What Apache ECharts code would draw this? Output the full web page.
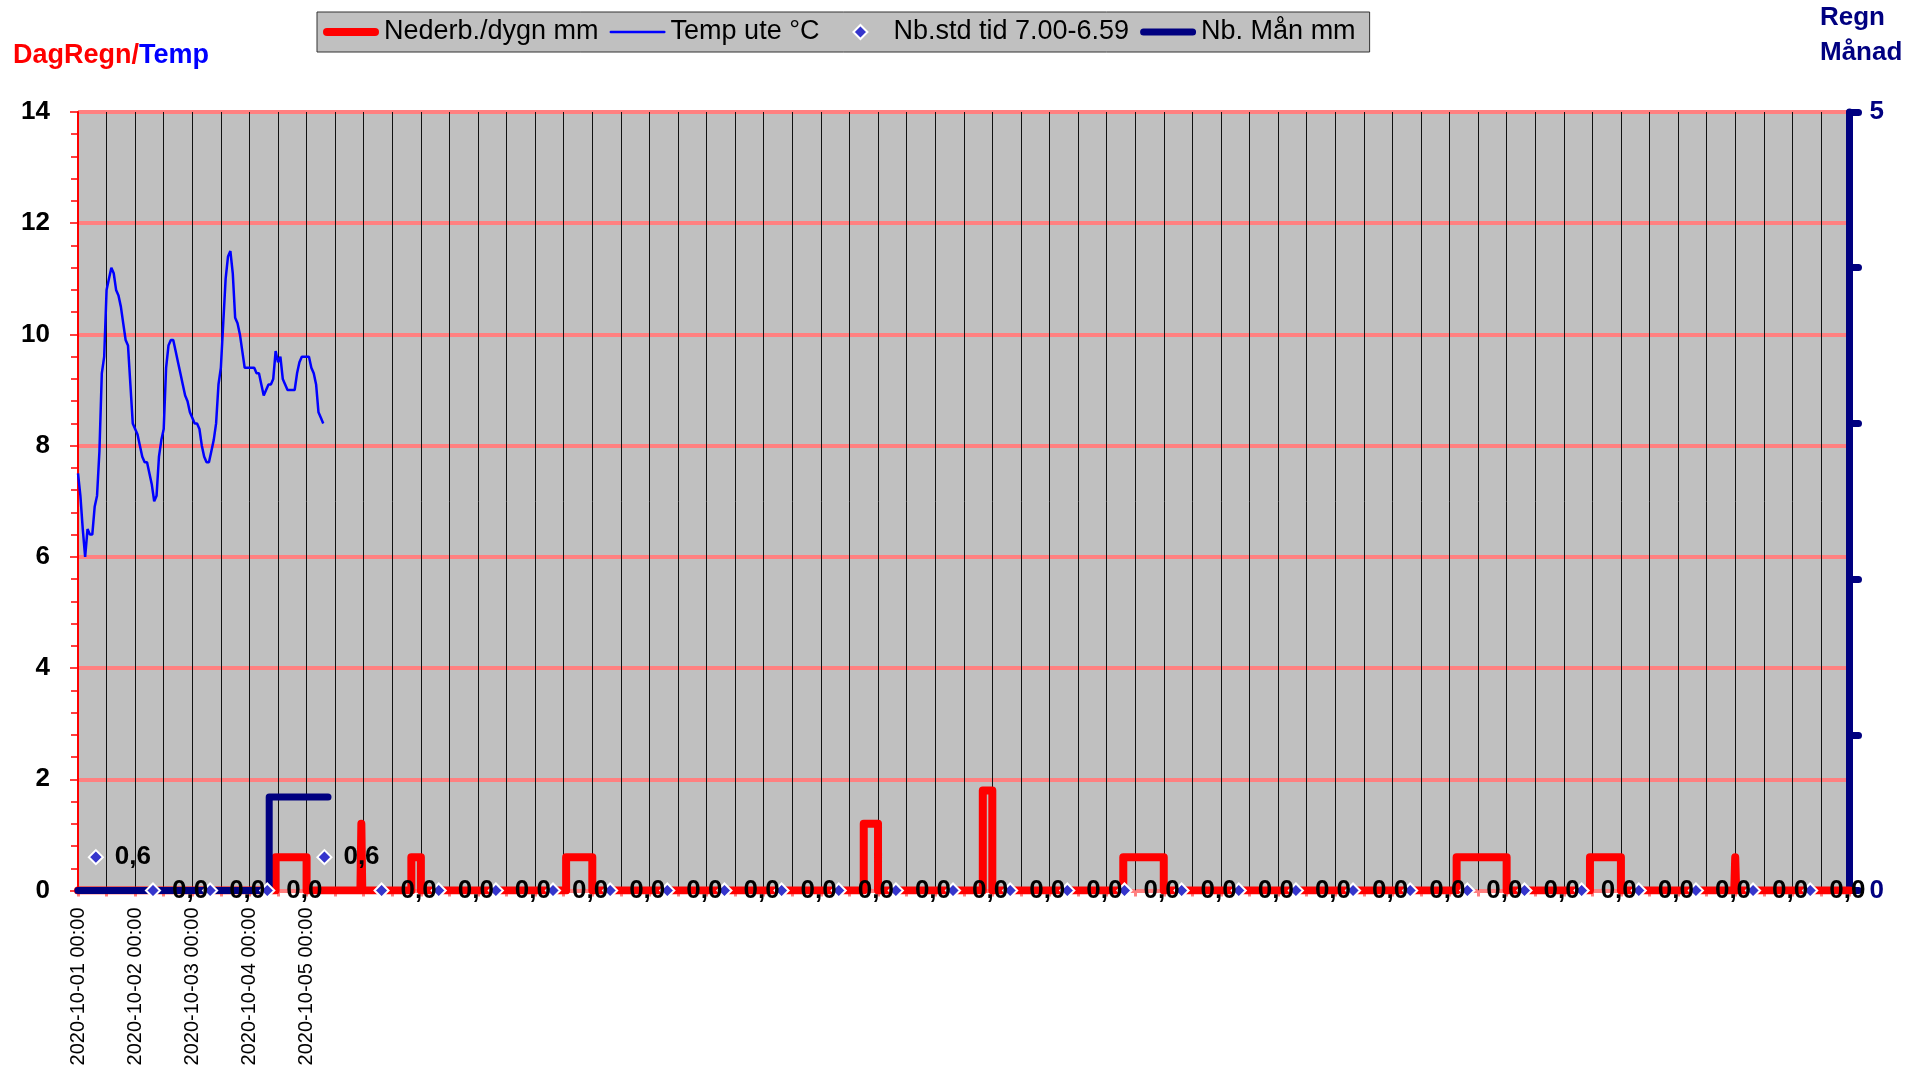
<!DOCTYPE html>
<html>
<head>
<meta charset="utf-8">
<script src="https://cdn.jsdelivr.net/npm/echarts@6/dist/echarts.min.js"></script>
<style>
  html, body { margin: 0; padding: 0; background: #fff; }
  #chart { width: 1930px; height: 1076px; }
</style>
</head>
<body>
<div id="chart"></div>
<script>
// x = hours after 2020-10-01 00:00, whole month
const monthHours = 744
const dateLabels = ['2020-10-01 00:00', '2020-10-02 00:00', '2020-10-03 00:00', '2020-10-04 00:00', '2020-10-05 00:00']

// Temp ute °C, one reading per hour from 10-01 00:00
const tempValues = [
  7.5, 7.1, 6.5, 6.0, 6.5, 6.4, 6.4, 6.9, 7.1, 7.9,
  9.3, 9.6, 10.8, 11.0, 11.2, 11.1, 10.8, 10.7, 10.5, 10.2,
  9.9, 9.8, 9.1, 8.4, 8.3, 8.2, 8.0, 7.8, 7.7, 7.7,
  7.5, 7.3, 7.0, 7.1, 7.8, 8.1, 8.3, 9.4, 9.8, 9.9,
  9.9, 9.7, 9.5, 9.3, 9.1, 8.9, 8.8, 8.6, 8.5, 8.4,
  8.4, 8.3, 8.0, 7.8, 7.7, 7.7, 7.9, 8.1, 8.4, 9.1,
  9.4, 10.2, 11.0, 11.4, 11.5, 11.1, 10.3, 10.2, 10.0, 9.7,
  9.4, 9.4, 9.4, 9.4, 9.4, 9.3, 9.3, 9.1, 8.9, 9.0,
  9.1, 9.1, 9.2, 9.7, 9.5, 9.6, 9.2, 9.1, 9.0, 9.0,
  9.0, 9.0, 9.3, 9.5, 9.6, 9.6, 9.6, 9.6, 9.4, 9.3,
  9.1, 8.6, 8.5, 8.4
]

// Nederb./dygn mm (break points)
const rainHours = [0, 83, 83, 96, 96, 118.6, 119, 119.4, 140, 140, 144, 144,
  205, 205, 216, 216, 330, 330, 336, 336, 380, 380, 384, 384,
  439, 439, 456, 456, 579, 579, 600, 600, 635, 635, 648, 648,
  695.6, 696, 696.4, 744]
const rainValues = [0, 0, 0.6, 0.6, 0, 0, 1.2, 0, 0, 0.6, 0.6, 0,
  0, 0.6, 0.6, 0, 0, 1.2, 1.2, 0, 0, 1.8, 1.8, 0,
  0, 0.6, 0.6, 0, 0, 0.6, 0.6, 0, 0, 0.6, 0.6, 0,
  0, 0.6, 0, 0]

// Nb.std tid 7.00-6.59
const stdHours = [7.5, 31.5, 55.5, 79.5, 103.5, 127.5, 151.5, 175.5, 199.5, 223.5,
  247.5, 271.5, 295.5, 319.5, 343.5, 367.5, 391.5, 415.5, 439.5, 463.5,
  487.5, 511.5, 535.5, 559.5, 583.5, 607.5, 631.5, 655.5, 679.5, 703.5, 727.5]
const stdValues = [0.6, 0, 0, 0, 0.6, 0, 0, 0, 0, 0,
  0, 0, 0, 0, 0, 0, 0, 0, 0, 0,
  0, 0, 0, 0, 0, 0, 0, 0, 0, 0, 0]

// Nb. Mån mm (right axis)
const monthRainHours = [0, 80.3, 80.3, 105]
const monthRainValues = [0, 0, 0.6, 0.6]

const font = "'Liberation Sans', Arial, sans-serif"
const zip = (xs, ys) => xs.map((x, i) => [x, ys[i]])

// legend icons: rounded bars of given thickness, and a diamond
const barIcon = h => `path://M${h / 2},0 L${56 - h / 2},0 A${h / 2},${h / 2} 0 0 1 ${56 - h / 2},${h} L${h / 2},${h} A${h / 2},${h / 2} 0 0 1 ${h / 2},0 Z`
const diamondIcon = 'path://M7,0 L14,7 L7,14 L0,7 Z'

const chart = echarts.init(document.getElementById('chart'))

chart.setOption({
  animation: false,
  textStyle: { fontFamily: font },
  title: [
    {
      text: '{a|DagRegn/}{b|Temp}',
      left: 13, top: 42, padding: 0,
      textStyle: {
        rich: {
          a: { color: '#ff0000', fontSize: 27, fontWeight: 'bold', fontFamily: font },
          b: { color: '#0000ff', fontSize: 27, fontWeight: 'bold', fontFamily: font }
        }
      }
    },
    {
      text: 'Regn\nMånad',
      left: 1820, top: 0, padding: 0,
      textStyle: { color: '#000080', fontSize: 26, fontWeight: 'bold', lineHeight: 35, fontFamily: font }
    }
  ],
  legend: {
    left: 317, top: 12,
    data: [
      { name: 'Nederb./dygn mm', icon: barIcon(8) },
      { name: 'Temp ute °C', icon: barIcon(2.5), textStyle: { padding: [0, 22, 0, 0] } },
      { name: 'Nb.std tid 7.00-6.59', icon: diamondIcon },
      { name: 'Nb. Mån mm', icon: barIcon(7) }
    ],
    symbolKeepAspect: true,
    backgroundColor: '#c0c0c0',
    borderColor: '#333',
    borderWidth: 1,
    borderRadius: 0,
    padding: [5, 14, 5, 6],
    itemWidth: 56,
    itemHeight: 14,
    itemGap: 11,
    selectedMode: false,
    textStyle: { fontSize: 27, color: '#000', lineHeight: 30, fontFamily: font }
  },
  grid: {
    left: 78, right: 80.5, top: 112, bottom: 185.5,
    show: true, backgroundColor: '#c0c0c0', borderWidth: 0
  },
  xAxis: {
    type: 'value',
    min: 0, max: monthHours, interval: 12,
    axisLine: { show: false },
    axisTick: { show: true, length: 6, lineStyle: { color: '#ff8080', width: 3 } },
    splitLine: { show: true, lineStyle: { color: '#111', width: 1 } },
    axisLabel: {
      rotate: 90, fontSize: 20, color: '#000', margin: 17, fontFamily: font,
      formatter: v => (v % 24 === 0 && dateLabels[v / 24]) ? dateLabels[v / 24] : ''
    }
  },
  yAxis: [
    {
      type: 'value', min: 0, max: 14, interval: 2,
      axisLine: { show: true, lineStyle: { color: '#ff0000', width: 2 } },
      axisTick: { show: true, length: 8, lineStyle: { color: '#ff0000', width: 1.5 } },
      minorTick: { show: true, splitNumber: 5, length: 7, lineStyle: { color: '#ff0000', width: 1.5 } },
      splitLine: { show: true, lineStyle: { color: '#ff8080', width: 4 } },
      axisLabel: { fontSize: 26, fontWeight: 'bold', color: '#000', margin: 28, fontFamily: font }
    },
    {
      type: 'value', min: 0, max: 5, interval: 1, position: 'right',
      axisLine: { show: true, lineStyle: { color: '#000080', width: 7 } },
      axisTick: { show: true, length: 9, lineStyle: { color: '#000080', width: 7, cap: 'round' } },
      splitLine: { show: false },
      axisLabel: {
        fontSize: 26, fontWeight: 'bold', color: '#000080', margin: 20, fontFamily: font,
        formatter: v => (v === 0 || v === 5) ? String(v) : ''
      }
    }
  ],
  series: [
    {
      name: 'Nederb./dygn mm',
      type: 'line',
      data: zip(rainHours, rainValues),
      symbol: 'none',
      lineStyle: { color: '#ff0000', width: 8, cap: 'round', join: 'round' },
      itemStyle: { color: '#ff0000' },
      z: 2
    },
    {
      name: 'Nb. Mån mm',
      type: 'line',
      yAxisIndex: 1,
      data: zip(monthRainHours, monthRainValues),
      symbol: 'none',
      lineStyle: { color: '#000080', width: 7, cap: 'round', join: 'round' },
      itemStyle: { color: '#000080' },
      z: 3
    },
    {
      name: 'Temp ute °C',
      type: 'line',
      data: tempValues.map((v, i) => [i, v]),
      symbol: 'none',
      lineStyle: { color: '#0000ff', width: 2.5 },
      itemStyle: { color: '#0000ff' },
      z: 4
    },
    {
      name: 'Nb.std tid 7.00-6.59',
      type: 'scatter',
      data: zip(stdHours, stdValues),
      symbol: 'diamond',
      symbolSize: 14,
      itemStyle: { color: '#3535cc', borderColor: '#fff', borderWidth: 2, opacity: 1 },
      label: {
        show: true, position: 'right', distance: 11,
        fontSize: 26, fontWeight: 'bold', color: '#000', fontFamily: font,
        formatter: p => p.value[1].toFixed(1).replace('.', ',')
      },
      z: 5
    }
  ]
})
</script>
</body>
</html>
